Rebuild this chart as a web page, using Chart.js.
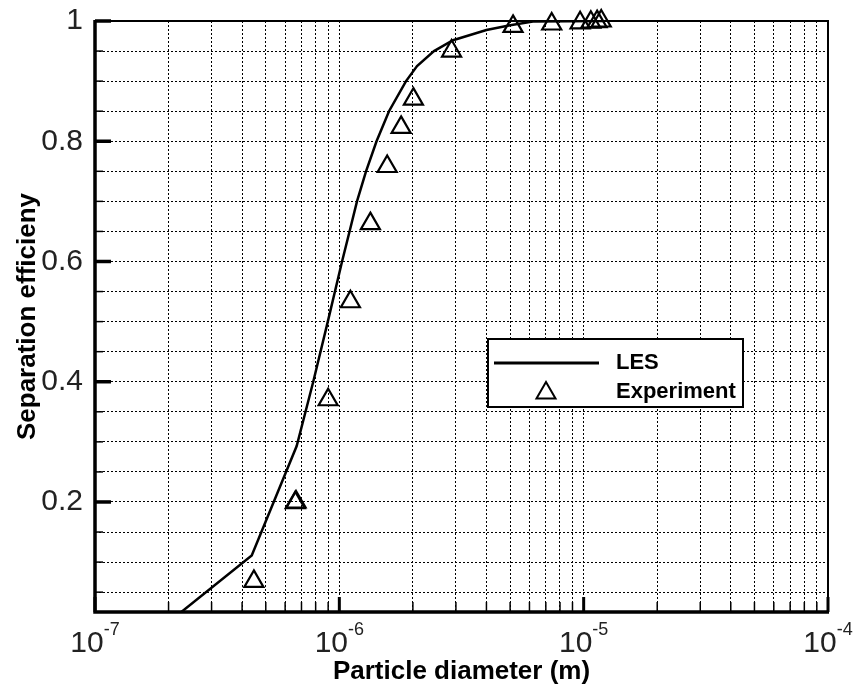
<!DOCTYPE html>
<html>
<head>
<meta charset="utf-8">
<script src="https://cdn.jsdelivr.net/npm/chart.js@4.4.1/dist/chart.umd.min.js"></script>
<style>
  body { margin: 0; background: #fff; }
  canvas { display: block; }
</style>
</head>
<body>
<canvas id="sepChart" width="857" height="689"></canvas>
<script>
// LES curve
var lesDiameter = [2.0e-7, 4.38e-7, 6.69e-7, 7.82e-7, 8.97e-7, 1.026e-6, 1.101e-6, 1.181e-6, 1.286e-6,
                   1.42e-6, 1.597e-6, 1.875e-6, 2.08e-6, 2.44e-6, 2.92e-6, 4.0e-6, 5.0e-6, 6.2e-6, 1.2e-5];
var lesEfficiency = [0.0, 0.111, 0.293, 0.40, 0.50, 0.60, 0.65, 0.70, 0.75,
                     0.80, 0.85, 0.90, 0.925, 0.95, 0.968, 0.985, 0.993, 0.999, 1.0];

// experiment points
var expDiameter = [4.47e-7, 6.6e-7, 6.65e-7, 9.0e-7, 1.11e-6, 1.34e-6, 1.57e-6, 1.79e-6,
                   2.01e-6, 2.88e-6, 5.14e-6, 7.4e-6, 9.67e-6, 1.07e-5, 1.135e-5, 1.18e-5];
var expEfficiency = [0.068, 0.199, 0.2, 0.370, 0.533, 0.663, 0.758, 0.823,
                     0.870, 0.950, 0.991, 0.995, 0.997, 0.998, 0.999, 1.0];

// axes
var decadeValues = [1e-7, 1e-6, 1e-5, 1e-4];
var decadeExponents = ['-7', '-6', '-5', '-4'];
var yGridValues = [0.05, 0.1, 0.15, 0.2, 0.25, 0.3, 0.35, 0.4, 0.45, 0.5,
                   0.55, 0.6, 0.65, 0.7, 0.75, 0.8, 0.85, 0.9, 0.95, 1.0];
var yLabelValues = [0.2, 0.4, 0.6, 0.8, 1.0];
var yLabels = ['0.2', '0.4', '0.6', '0.8', '1'];

var FONT = "'Liberation Sans', Arial, Helvetica, sans-serif";

// minor grid positions 1..9 per decade
var xGridValues = [];
for (var k = 0; k < decadeValues.length - 1; k++) {
    for (var m = 1; m < 10; m++) xGridValues.push(decadeValues[k] * m);
}
xGridValues.push(decadeValues[decadeValues.length - 1]);

function isDecade(v) {
    return decadeValues.some(d => Math.abs(v / d - 1) < 1e-9);
}
function yLabelFor(v) {
    for (var i = 0; i < yLabelValues.length; i++) {
        if (Math.abs(v - yLabelValues[i]) < 1e-9) return yLabels[i];
    }
    return '';
}

var framePlugin = {
    id: 'frame',
    beforeDatasetsDraw(chart) {
        var ctx = chart.ctx, a = chart.chartArea;
        var xs = chart.scales.x, ys = chart.scales.y;
        ctx.save();
        ctx.strokeStyle = '#000';
        // inward ticks, bottom
        xs.ticks.forEach(t => {
            var px = xs.getPixelForValue(t.value);
            var major = isDecade(t.value);
            ctx.lineWidth = major ? 3 : 1.5;
            ctx.beginPath();
            ctx.moveTo(px, a.bottom);
            ctx.lineTo(px, a.bottom - (major ? 15 : 10));
            ctx.stroke();
        });
        // inward ticks, left
        ys.ticks.forEach(t => {
            var py = ys.getPixelForValue(t.value);
            var major = yLabelFor(t.value) !== '';
            ctx.lineWidth = major ? 3.5 : 1.5;
            ctx.beginPath();
            ctx.moveTo(a.left, py);
            ctx.lineTo(a.left + (major ? 16 : 8), py);
            ctx.stroke();
        });
        // frame
        ctx.lineWidth = 2;
        ctx.strokeRect(a.left, a.top, a.right - a.left, a.bottom - a.top);
        ctx.lineWidth = 3.5;
        ctx.beginPath();
        ctx.moveTo(a.left, a.top - 1);
        ctx.lineTo(a.left, a.bottom);
        ctx.lineTo(a.right + 1, a.bottom);
        ctx.stroke();
        ctx.restore();
    },
    afterDraw(chart) {
        var ctx = chart.ctx, a = chart.chartArea;
        var xs = chart.scales.x;
        ctx.save();
        // x tick labels as 10^n
        ctx.fillStyle = '#222';
        ctx.textAlign = 'left';
        ctx.textBaseline = 'alphabetic';
        decadeValues.forEach((v, i) => {
            var px = xs.getPixelForValue(v);
            ctx.font = '30px ' + FONT;
            var w1 = ctx.measureText('10').width;
            ctx.font = '18px ' + FONT;
            var w2 = ctx.measureText(decadeExponents[i]).width;
            var x0 = px - (w1 + w2) / 2;
            ctx.font = '30px ' + FONT;
            ctx.fillText('10', x0, a.bottom + 40);
            ctx.font = '18px ' + FONT;
            ctx.fillText(decadeExponents[i], x0 + w1, a.bottom + 23);
        });

        // legend box
        var bx = a.left + 393, by = a.top + 318, bw = 255, bh = 68;
        ctx.fillStyle = '#fff';
        ctx.fillRect(bx, by, bw, bh);
        ctx.strokeStyle = '#000';
        ctx.lineWidth = 2;
        ctx.strokeRect(bx, by, bw, bh);

        ctx.lineWidth = 3;
        ctx.beginPath();
        ctx.moveTo(bx + 6, by + 24);
        ctx.lineTo(bx + 111, by + 24);
        ctx.stroke();

        ctx.fillStyle = '#fff';
        ctx.lineWidth = 2;
        Chart.helpers.drawPoint(ctx, {pointStyle: 'triangle', radius: 11, borderWidth: 2, rotation: 0},
            bx + 58, by + 54);

        ctx.fillStyle = '#000';
        ctx.font = 'bold 22px ' + FONT;
        ctx.textBaseline = 'middle';
        ctx.fillText('LES', bx + 128, by + 24);
        ctx.fillText('Experiment', bx + 128, by + 53);
        ctx.restore();
    }
};

new Chart(document.getElementById('sepChart'), {
    type: 'scatter',
    data: {
        datasets: [
            {
                label: 'LES',
                data: lesDiameter.map((d, i) => ({x: d, y: lesEfficiency[i]})),
                showLine: true,
                borderColor: '#000',
                borderWidth: 2.5,
                pointRadius: 0,
                tension: 0
            },
            {
                label: 'Experiment',
                data: expDiameter.map((d, i) => ({x: d, y: expEfficiency[i]})),
                showLine: false,
                pointStyle: 'triangle',
                pointRadius: 11,
                pointBorderWidth: 2.2,
                borderColor: '#000',
                backgroundColor: 'rgba(0,0,0,0)',
                clip: false
            }
        ]
    },
    options: {
        responsive: false,
        animation: false,
        layout: { padding: { top: 21, right: 29, left: 0, bottom: 0 } },
        plugins: {
            legend: { display: false },
            tooltip: { enabled: false }
        },
        scales: {
            x: {
                type: 'logarithmic',
                min: 1e-7,
                max: 1e-4,
                afterBuildTicks: s => { s.ticks = xGridValues.map(v => ({value: v})); },
                afterFit: s => { s.height = 77; s.paddingLeft = 0; s.paddingRight = 0; },
                grid: { color: '#000', lineWidth: 1, drawTicks: false },
                border: { display: false, dash: [2, 2] },
                ticks: { autoSkip: false, maxRotation: 0, callback: () => '' },
                title: {
                    display: true,
                    text: 'Particle diameter (m)',
                    color: '#000',
                    font: { family: FONT, size: 26, weight: 'bold' },
                    padding: { top: 0, bottom: 2 }
                }
            },
            y: {
                min: 0.017,
                max: 1,
                afterBuildTicks: s => { s.ticks = yGridValues.map(v => ({value: v})); },
                afterFit: s => { s.width = 95; s.paddingTop = 0; s.paddingBottom = 0; },
                grid: { color: '#000', lineWidth: 1, drawTicks: false },
                border: { display: false, dash: [2, 2] },
                ticks: {
                    autoSkip: false,
                    padding: 12,
                    color: '#222',
                    font: { family: FONT, size: 30 },
                    callback: v => yLabelFor(v)
                },
                title: {
                    display: true,
                    text: 'Separation efficieny',
                    color: '#000',
                    font: { family: FONT, size: 26, weight: 'bold' },
                    padding: { top: 12, bottom: 0 }
                }
            }
        }
    },
    plugins: [framePlugin]
});
</script>
</body>
</html>
